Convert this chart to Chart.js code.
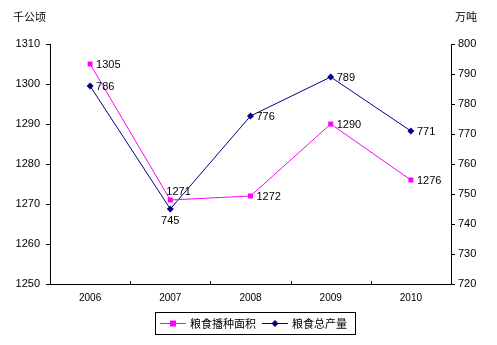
<!DOCTYPE html>
<html>
<head>
<meta charset="utf-8">
<script src="https://cdn.jsdelivr.net/npm/chart.js@4.4.1/dist/chart.umd.min.js"></script>
<style>
  html, body { margin: 0; padding: 0; background: #fff; }
  #wrap { width: 497px; height: 345px; position: relative; }
</style>
</head>
<body>
<div id="wrap"><canvas id="chart-div"></canvas></div>
<script>
var years = ['2006', '2007', '2008', '2009', '2010'];
var areaVals = [1305, 1271, 1272, 1290, 1276];   // 千公顷
var outputVals = [786, 745, 776, 789, 771];      // 万吨
var areaName = '粮食播种面积';
var outputName = '粮食总产量';
// where each value label sits: r = right, t = top, b = below
var areaLabelPos = ['r', 't', 'r', 'r', 'r'];
var outputLabelPos = ['r', 'b', 'r', 'r', 'r'];

var latin = '"Liberation Sans", Arial, sans-serif';
var cjk = '"Noto Sans CJK SC", sans-serif';

var valueLabels = {
    id: 'valueLabels',
    afterDatasetsDraw: function (chart) {
        var ctx = chart.ctx;
        ctx.save();
        ctx.font = '11px ' + latin;
        ctx.fillStyle = '#000';
        chart.data.datasets.forEach(function (ds, di) {
            var meta = chart.getDatasetMeta(di);
            meta.data.forEach(function (pt, i) {
                var pos = ds.labelPos[i];
                var txt = String(ds.data[i]);
                if (pos === 'r') {
                    ctx.textAlign = 'left'; ctx.textBaseline = 'middle';
                    ctx.fillText(txt, pt.x + 6, pt.y + 1);
                } else if (pos === 't') {
                    ctx.textAlign = 'left'; ctx.textBaseline = 'bottom';
                    ctx.fillText(txt, pt.x - 4, pt.y - 3);
                } else {
                    ctx.textAlign = 'center'; ctx.textBaseline = 'top';
                    ctx.fillText(txt, pt.x, pt.y + 6);
                }
            });
        });
        ctx.restore();
    }
};

var unitsAndLegend = {
    id: 'unitsAndLegend',
    afterDraw: function (chart) {
        var ctx = chart.ctx;
        ctx.save();

        // small inward marks between the year categories
        var xs = chart.scales.x, area = chart.chartArea;
        var half = (xs.getPixelForValue(1) - xs.getPixelForValue(0)) / 2;
        ctx.strokeStyle = '#000';
        ctx.lineWidth = 1;
        for (var i = 0; i < years.length - 1; i++) {
            var gx = Math.round(xs.getPixelForValue(i) + half) + 0.5;
            ctx.beginPath();
            ctx.moveTo(gx, area.bottom);
            ctx.lineTo(gx, area.bottom - 3);
            ctx.stroke();
        }

        ctx.fillStyle = '#000';
        ctx.font = '11px ' + cjk;
        ctx.textBaseline = 'middle';
        ctx.textAlign = 'left';
        ctx.fillText('千公顷', 13, 17);
        ctx.fillText('万吨', 455, 17);

        // legend box
        var bx = 155.5, by = 312.5, bw = 200, bh = 22;
        ctx.strokeRect(bx, by, bw, bh);
        var cy = by + bh / 2;
        var items = [
            { x: 160, color: '#FF00FF', shape: 'rect', text: areaName },
            { x: 262, color: '#000080', shape: 'diamond', text: outputName }
        ];
        items.forEach(function (it) {
            ctx.strokeStyle = it.color;
            ctx.beginPath();
            ctx.moveTo(it.x, cy);
            ctx.lineTo(it.x + 26, cy);
            ctx.stroke();
            ctx.fillStyle = it.color;
            var mx = it.x + 13;
            if (it.shape === 'rect') {
                ctx.fillRect(mx - 3, cy - 3, 6, 6);
            } else {
                ctx.beginPath();
                ctx.moveTo(mx, cy - 3.5);
                ctx.lineTo(mx + 3.5, cy);
                ctx.lineTo(mx, cy + 3.5);
                ctx.lineTo(mx - 3.5, cy);
                ctx.closePath();
                ctx.fill();
            }
            ctx.fillStyle = '#000';
            ctx.fillText(it.text, it.x + 30, cy);
        });
        ctx.restore();
    }
};

var config = {
    type: 'line',
    data: {
        labels: years,
        datasets: [{
            label: areaName,
            data: areaVals,
            labelPos: areaLabelPos,
            yAxisID: 'y',
            borderColor: '#FF00FF',
            backgroundColor: '#FF00FF',
            borderWidth: 1,
            pointStyle: 'rect',
            pointRadius: 3.5,
            pointBorderWidth: 0,
            tension: 0
        }, {
            label: outputName,
            data: outputVals,
            labelPos: outputLabelPos,
            yAxisID: 'y1',
            borderColor: '#000080',
            backgroundColor: '#000080',
            borderWidth: 1,
            pointStyle: 'rectRot',
            pointRadius: 3.5,
            pointBorderWidth: 0,
            tension: 0
        }]
    },
    options: {
        responsive: true,
        maintainAspectRatio: false,
        animation: false,
        layout: { padding: { top: 44, bottom: 37, left: 0, right: 0 } },
        plugins: {
            legend: { display: false },
            tooltip: { enabled: false }
        },
        scales: {
            x: {
                offset: true,
                grid: { display: false, drawTicks: false },
                border: { color: '#000' },
                ticks: { color: '#000', font: { family: latin, size: 10 }, padding: 8, maxRotation: 0 },
                afterFit: function (s) { s.height = 24; }
            },
            y: {
                position: 'left',
                min: 1250, max: 1310,
                ticks: {
                    stepSize: 10, color: '#000', font: { family: latin, size: 11 }, padding: 6,
                    callback: function (v) { return String(v); }
                },
                grid: { drawOnChartArea: false, drawTicks: true, tickLength: 4, color: '#000' },
                border: { color: '#000' },
                afterFit: function (s) { s.width = 50; }
            },
            y1: {
                position: 'right',
                min: 720, max: 800,
                ticks: {
                    stepSize: 10, color: '#000', font: { family: latin, size: 11 }, padding: 3,
                    callback: function (v) { return String(v); }
                },
                grid: { drawOnChartArea: false, drawTicks: true, tickLength: 4, color: '#000' },
                border: { color: '#000' },
                afterFit: function (s) { s.width = 46; }
            }
        }
    },
    plugins: [valueLabels, unitsAndLegend]
};

var chart = new Chart(document.getElementById('chart-div').getContext('2d'), config);
</script>
</body>
</html>
